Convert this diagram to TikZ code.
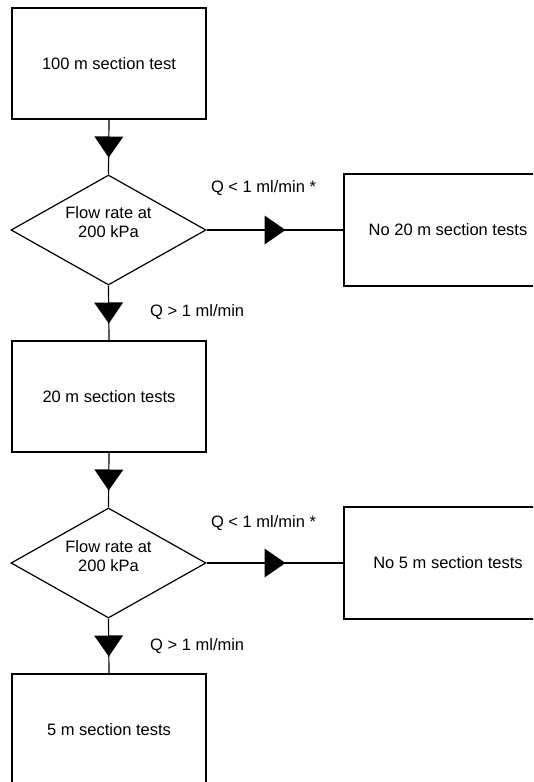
\documentclass[tikz,border=0pt]{standalone}
\usepackage{fontspec}
\setmainfont{Liberation Sans}
\usetikzlibrary{shapes.geometric,decorations.markings}
\begin{document}
\begin{tikzpicture}[x=1pt,y=-1pt,
  font=\fontsize{16.5}{19}\selectfont,
  every node/.style={inner sep=0pt},
  box/.style={draw, line width=1.2pt, rectangle, minimum width=194pt, minimum height=111pt, align=center},
  widebox/.style={draw, line width=1.2pt, rectangle, minimum width=208pt, minimum height=112pt, align=center},
  decision/.style={draw, line width=1.2pt, diamond, minimum width=195pt, minimum height=110pt, aspect=1.77},
  flow/.style={line width=1.2pt, postaction={decorate}, decoration={markings, mark=at position 0.5 with {\fill (10.5,0) -- (-10.5,14.5) -- (-10.5,-14.5) -- cycle;}}},
  cond/.style={font=\fontsize{16.5}{19}\selectfont}
]
\useasboundingbox (0,0) rectangle (533,782);
\clip (0,0) rectangle (533,782);
\fill[white] (0,0) rectangle (533,782);

\node[box] (b1) at (109,63.5) {100 m section test};
\node[decision, label={[align=center, yshift=8pt]center:Flow rate at\\200 kPa}] (d1) at (108.5,230) {};
\node[widebox] (n1) at (448,230) {No 20 m section tests};
\node[box] (b2) at (109,396.5) {20 m section tests};
\node[decision, label={[align=center, yshift=7pt]center:Flow rate at\\200 kPa}] (d2) at (108.5,563) {};
\node[widebox] (n2) at (448,563) {No 5 m section tests};
\node[box] (b3) at (109,729.5) {5 m section tests};

\draw[flow] (b1.south) -- (d1.north);
\draw[flow] (d1.east) -- (n1.west);
\draw[flow] (d1.south) -- (b2.north);
\draw[flow] (b2.south) -- (d2.north);
\draw[flow] (d2.east) -- (n2.west);
\draw[flow] (d2.south) -- (b3.north);

\node[cond] (l1) at (263.5,188) {Q < 1 ml/min *};
\node[cond, anchor=west] (l2) at (150,312) {Q > 1 ml/min};
\node[cond] (l3) at (263.5,523) {Q < 1 ml/min *};
\node[cond, anchor=west] (l4) at (150,646) {Q > 1 ml/min};
\end{tikzpicture}
\end{document}
